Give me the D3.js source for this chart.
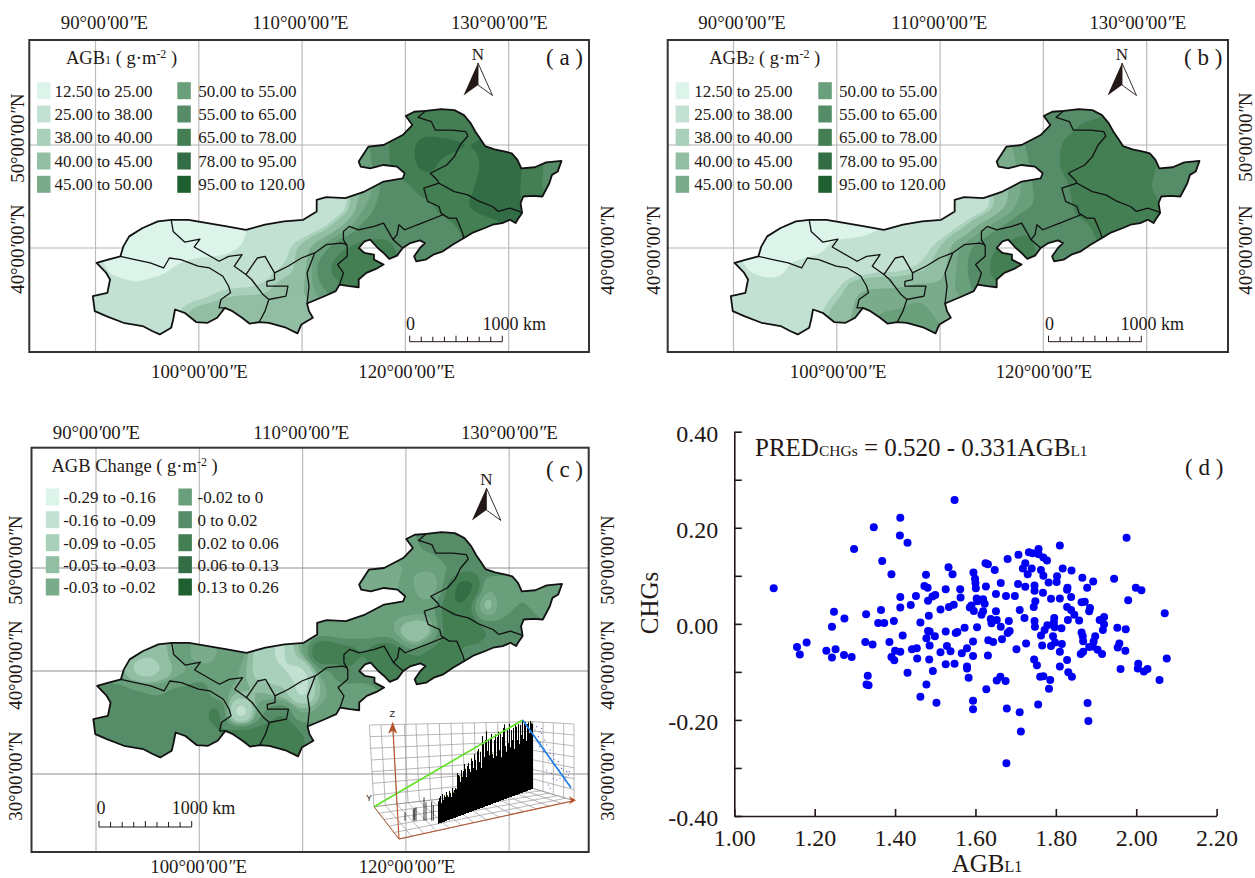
<!DOCTYPE html>
<html><head><meta charset="utf-8">
<script src="https://cdnjs.cloudflare.com/ajax/libs/d3/7.8.5/d3.min.js"></script>
<style>html,body{margin:0;padding:0;background:#fff}svg{display:block}text{font-family:"Liberation Serif",serif;fill:#231815}</style>
</head><body><svg id="c" width="1255" height="878"></svg>
<script>
// ---------- data ----------
const bandColors=["#dcf4e9","#c3e1d3","#a9d0ba","#92bfa3","#7aab8b","#6a9f7b","#568c68","#437f53","#336d45","#1f5f30"];
const agbBreaks=[12.5,25,38,40,45,50,55,65,78,95,120];
const agbLabels=["12.50 to 25.00","25.00 to 38.00","38.00 to 40.00","40.00 to 45.00","45.00 to 50.00","50.00 to 55.00","55.00 to 65.00","65.00 to 78.00","78.00 to 95.00","95.00 to 120.00"];
const changeBreaks=[-0.29,-0.16,-0.09,-0.05,-0.03,-0.02,0,0.02,0.06,0.13,0.26];
const changeLabels=["-0.29 to -0.16","-0.16 to -0.09","-0.09 to -0.05","-0.05 to -0.03","-0.03 to -0.02","-0.02 to 0","0 to 0.02","0.02 to 0.06","0.06 to 0.13","0.13 to 0.26"];
// region outline, [lon, lat]
const outline=[[120.04,52.81],[120.85,53.23],[121.96,53.32],[123.44,53.48],[124.74,53.39],[125.67,52.9],[126.33,52.1],[126.78,51.29],[127.33,50.48],[127.7,49.9],[128.63,49.58],[129.67,49.35],[130.3,49.19],[130.85,48.55],[131.22,47.74],[132.52,47.84],[133.63,48.32],[135.11,48.45],[134.74,47.42],[134.19,47.1],[133.93,46.29],[133.26,45],[132.33,45.06],[131.41,45],[131.15,44.35],[131.3,43.39],[130.85,42.74],[130.67,42.42],[130.11,42.74],[129.37,42.42],[128.44,42.26],[127.7,41.94],[126.59,41.52],[125.67,40.97],[124.56,40.32],[123.63,39.68],[122.7,39.35],[121.96,38.87],[121.04,38.71],[120.85,39.19],[121.41,40],[121.89,40.48],[121.41,40.74],[120.48,40.48],[119.74,40],[119.19,39.26],[118.44,38.94],[117.89,39.52],[117.33,40],[116.59,40.81],[116.04,40.65],[115.48,40],[116.04,39.52],[116.96,39.35],[116.96,38.87],[117.89,38.39],[117.15,37.97],[116.22,37.58],[115.48,36.94],[115.48,36.19],[114.56,36.29],[113.63,36.45],[113.26,35.81],[112.15,35.32],[110.48,34.61],[110.67,33.87],[111.04,33.23],[109.93,32.58],[109.56,31.71],[108.44,32.26],[106.78,32.74],[105.85,32.81],[104.93,32.65],[104.19,33.23],[103.26,33.87],[102.52,34.19],[101.78,33.23],[100.85,32.74],[99.74,32.81],[98.63,33.71],[97.7,34.03],[97.52,33.06],[97.33,32.26],[96.22,31.61],[95.48,31.94],[94.56,32.42],[92.7,32.74],[91.04,33.39],[89.93,33.87],[89.74,35.32],[91.15,35.65],[91.41,36.94],[91.04,37.58],[90.11,38.55],[91.22,38.87],[92.41,39.19],[92.7,40.16],[93.26,41.13],[94.56,41.94],[96.04,42.58],[97.33,42.74],[99,42.74],[100.85,42.42],[102.7,42.1],[104.56,41.77],[106.41,42.26],[108.26,42.58],[110.11,42.74],[111.41,43.55],[111.41,44.68],[112.33,44.94],[114.19,44.84],[116.04,45.48],[117.89,46.45],[119.74,46.77],[119.93,47.26],[119.19,47.9],[117.89,48.06],[116.59,47.74],[115.67,47.9],[115.48,48.39],[116.41,49.84],[117.89,50],[119.74,50.97],[120.67,51.94]];
// province borders, [lon, lat]
const borders=[
[[121.96,53.32],[121.22,52.68],[122.52,52.26],[122.89,51.45],[124.56,51.45],[125.85,51.29],[126.04,50.87],[125.3,50],[124.74,48.87],[124,48.06],[122.41,47.26],[123.07,46.61],[123.26,46.29],[121.78,45.81],[122.15,44.52],[123.26,44.03],[123.44,43.39],[124.19,42.9],[124.93,42.9],[125.48,41.61],[125.67,40.97]],
[[123.26,46.29],[124.74,45.48],[126.04,45.16],[127.15,44.52],[128.44,44.03],[129,43.55],[130.11,43.87],[131.22,43.48]],
[[123.63,43.23],[121.59,42.42],[119.93,41.77],[119.37,42.26],[119.19,41.29],[118.81,40.81],[119.74,40]],
[[118.81,40.81],[118.44,41.45],[117.89,42.42],[116.96,42.1],[115.48,41.77],[114.56,42.1],[114,41.61],[114,40.81],[114.37,40.16],[114.37,39.19],[113.44,38.39],[114,37.58],[113.63,36.45]],
[[114.37,40.32],[113.81,40.48],[112.33,40.32],[111.22,39.52],[110.48,37.58],[110.67,36.29],[110.48,34.61]],
[[111.22,39.52],[109.93,39.03],[108.63,38.23],[107.33,37.58],[107.33,36.94],[106.59,36.77],[106.59,36.29],[108.63,36.29],[108.44,35.32],[106.78,35],[106.41,33.87],[105.85,32.81]],
[[107.33,37.58],[106.41,39.19],[105.67,39.03],[104.56,37.42],[105.11,36.94],[106.22,35.48],[106.78,35]],
[[97.33,42.74],[97.52,41.61],[98.63,40.58],[100.11,40.87],[99.56,40.1],[101.96,38.71],[102.89,39.19],[104.19,39.35],[103.44,38.23],[104.56,37.42]],
[[92.41,39.19],[93.81,38.87],[95.3,38.55],[96.59,38.06],[97.15,39.03],[98.26,38.87],[99.93,38.23],[101.04,38.06],[102.33,37.26],[102.89,36.29],[103.07,35.65],[102.15,35],[101.96,34.19],[102.52,34.19]]
];
const agb1Rows=[
[53,120,[72,74,70,68,66]],[52,120,[72,72,68,70]],
[50,116,[52,62,74,84,84,80,80,82]],
[48,116,[50,64,72,86,72,68,84,86,74,60]],
[46,116,[42,58,62,70,68,74,86,86,72,60]],
[44,110,[28,30,34,50,60,60,62,70,80,84,86,72]],
[42,94,[18,18,18,18,18,22,30,32,33,36,45,58,62,60,60,60,68,72]],
[40,92,[18,18,18,18,18,20,24,33,36,42,52,66,70,68,62,60,60]],
[38,90,[30,20,18,20,27,33,33,34,36,38,40,62,76,80,70]],
[36,90,[32,32,28,33,33,34,38,38,38,42,44,55,62]],
[34,90,[33,33,33,34,38,42,42,45,45,42,42,46]],
[32,94,[33,36,40,44,44,45,44,44,44]]];
const agb2Rows=[
[53,120,[58,58,58,60]],[52,120,[62,62,70,72]],
[50,116,[45,55,60,66,72,70,70,70]],
[48,116,[45,52,62,66,70,72,72,70,60,55]],
[46,116,[42,50,60,64,68,72,72,66,58,55]],
[44,110,[30,30,33,42,53,56,62,70,74,76,72,62]],
[42,94,[18,18,18,18,18,23,30,33,33,38,48,56,64,62,62,62,70,72]],
[40,92,[18,18,18,20,30,32,33,34,36,40,52,60,68,70,62,62,62]],
[38,90,[30,22,18,30,33,34,34,36,36,38,42,52,62,72,66]],
[36,90,[32,32,32,32,34,37,46,46,46,48,46,52,58]],
[34,90,[33,33,33,33,36,42,46,50,50,52,48,46]],
[32,94,[33,33,38,44,46,52,54,56,50]]];
const changeRows=[
[53,120,[-0.005,0.01,0.01,0.01]],[52,120,[-0.01,0,0.01,0.01]],
[50,116,[-0.025,-0.025,-0.02,-0.015,0,0.01,0.01]],
[48,116,[-0.025,-0.03,-0.015,-0.015,0.02,0.08,-0.02,0,0,-0.005]],
[46,114,[-0.015,-0.02,-0.015,-0.015,-0.015,0.03,0.06,-0.03,0,0]],
[44,110,[-0.025,-0.015,-0.02,-0.015,-0.015,-0.03,-0.04,0.03,0.04,0.02,0.01]],
[42,94,[-0.035,-0.04,-0.015,-0.015,-0.005,-0.01,-0.07,-0.1,-0.02,0.04,0.03,0.02,0.04,0.03,0.03,0.03,0.015,0.015]],
[40,92,[-0.02,-0.05,-0.05,-0.025,-0.01,0,-0.02,-0.07,-0.09,-0.11,-0.015,0.02,0.015,0.04,0.03,0.03,0.03]],
[38,90,[0.01,0.01,0.005,0,0.005,0.01,-0.015,-0.025,-0.03,-0.04,-0.11,-0.02,-0.01,-0.01]],
[36,90,[0.01,0.01,0,0.005,0.01,0.015,0.03,-0.13,0,0.02,-0.02,-0.015,-0.01]],
[34,90,[0.01,0.01,0.01,0.01,0.01,0.01,0.02,0.04,0.03,0.05,0.02,0.01]],
[32,94,[0.01,0.01,0.01,0.01,0.01,0.02,0.03,0.03,0.02]]];
const changeSpots=[[100.74,41.87,-0.05],[94.8,40.26,-0.07],[120.74,43.16,-0.07],[122.4,48.3,-0.05],[127.04,46.55,-0.06],[125.56,47.5,0.1],[111.67,41.39,0.06],[119.26,40.4,0.06]];
// scatter (d)
const agbL1=[1.098,1.156,1.163,1.18,1.229,1.243,1.252,1.243,1.248,1.274,1.273,1.292,1.298,1.326,1.328,1.344,1.332,1.329,1.334,1.347,1.368,1.365,1.358,1.373,1.386,1.391,1.397,1.391,1.398,1.4,1.413,1.413,1.412,1.431,1.413,1.413,1.419,1.439,1.431,1.452,1.442,1.454,1.455,1.463,1.463,1.473,1.481,1.477,1.482,1.484,1.493,1.5,1.513,1.478,1.482,1.486,1.486,1.499,1.485,1.494,1.478,1.503,1.513,1.526,1.533,1.543,1.534,1.546,1.526,1.529,1.538,1.526,1.548,1.548,1.562,1.563,1.551,1.555,1.573,1.566,1.579,1.579,1.579,1.583,1.594,1.594,1.604,1.586,1.596,1.59,1.595,1.599,1.6,1.601,1.603,1.605,1.594,1.594,1.619,1.623,1.619,1.615,1.625,1.631,1.626,1.648,1.663,1.651,1.676,1.698,1.651,1.638,1.64,1.653,1.663,1.683,1.685,1.68,1.632,1.644,1.666,1.631,1.627,1.653,1.662,1.675,1.678,1.677,1.68,1.707,1.706,1.71,1.722,1.702,1.726,1.71,1.713,1.718,1.724,1.73,1.733,1.742,1.74,1.757,1.757,1.769,1.778,1.763,1.769,1.782,1.747,1.724,1.747,1.768,1.749,1.745,1.788,1.81,1.81,1.817,1.803,1.802,1.829,1.828,1.839,1.838,1.828,1.838,1.83,1.846,1.858,1.864,1.872,1.866,1.878,1.893,1.885,1.883,1.747,1.748,1.772,1.779,1.796,1.795,1.797,1.814,1.763,1.766,1.793,1.798,1.788,1.815,1.81,1.828,1.746,1.753,1.761,1.769,1.786,1.783,1.756,1.81,1.831,1.84,1.864,1.867,1.868,1.862,1.868,1.883,1.892,1.898,1.894,1.904,1.915,1.879,1.881,1.909,1.92,1.92,1.917,1.945,1.953,1.974,1.954,1.958,1.973,1.961,1.976,1.98,1.999,2.013,2.005,2.004,2.019,2.028,2.058,2.071,2.076];
const chgs=[0.074,-0.048,-0.064,-0.039,-0.056,-0.07,-0.053,-0.006,0.025,0.011,-0.065,-0.069,0.156,-0.038,0.02,-0.043,-0.108,-0.126,-0.128,0.201,0.131,0.029,0.002,0.002,-0.038,0.103,0.006,-0.069,-0.076,-0.056,-0.058,0.221,0.184,0.169,0.056,0.034,-0.024,0.039,-0.102,0.058,-0.053,-0.051,-0.072,0.003,-0.152,0.079,0.075,0.102,0.048,0.017,0.057,0.06,0.03,-0.03,-0.015,-0.016,-0.045,-0.026,-0.074,-0.098,-0.126,-0.164,-0.059,0.072,0.118,0.103,0.035,0.04,-0.016,-0.046,-0.057,-0.084,-0.083,0.258,0.072,0.055,-0.019,-0.017,-0.008,-0.061,-0.051,-0.089,-0.093,-0.112,-0.067,-0.037,-0.007,0.034,0.027,0.038,0.107,0.094,0.085,0.074,0.053,0.047,-0.16,-0.178,0.051,0.042,0.026,0.019,0.126,0.124,0.078,0.112,0.085,0.062,0.058,0.058,0.026,0.01,0.001,0.008,-0.006,0.006,-0.015,-0.019,-0.034,-0.038,-0.032,-0.066,-0.136,-0.118,-0.11,-0.119,-0.176,-0.29,0.135,0.144,0.083,0.029,0.012,-0.053,-0.041,-0.184,-0.224,0.115,0.126,0.103,0.149,0.147,0.115,0.156,0.145,0.138,0.132,0.112,0.1,0.086,0.08,0.077,0.069,0.065,0.047,0.035,0.052,0.053,0.163,0.115,0.099,0.087,0.075,0.071,0.111,0.056,0.035,0.029,0.008,0.019,0.007,0.045,0.046,0.096,0.075,0.088,0.033,0.026,0.006,-0.006,-0.013,-0.003,0.012,0.003,-0.007,-0.009,-0.024,-0.045,-0.026,-0.039,-0.046,-0.042,-0.058,-0.075,-0.074,-0.086,-0.11,-0.109,-0.117,-0.135,-0.168,-0.089,-0.101,-0.11,-0.018,-0.026,-0.036,-0.063,-0.058,-0.048,-0.047,-0.026,-0.037,-0.054,-0.063,-0.165,-0.202,0.008,0.014,-0.001,-0.013,0.094,-0.008,-0.011,-0.049,-0.041,-0.056,-0.094,0.179,0.049,0.075,0.07,-0.083,-0.093,-0.099,-0.094,-0.117,0.022,-0.072];
// inset (c): bar silhouette, wall scatter
const sparseBarPos=[165,190,194,198,222,228,245,250],sparseBarHeight=[25,35,38,40,70,55,57,47];
const denseBarHeights=[68,75,82,60,85,66,80,72,88,76,70,86,80,66,92,78,85,90,85,130,125,120,100,135,115,130,150,135,110,140,150,130,120,160,150,130,170,150,120,175,180,140,170,120,215,190,150,200,225,165,195,150,200,210,150,135,190,205,140,195,210,155,200,130,190,215,225,160,140,205,165,220,150,200,170,205,140,215,205,165,210,150,205,175,215,160,205,210,150,200,205,170,205,200,195];
const wallDotX=[560,570,565,575,585,590,568,580,600,610,595,615,625,640,650,655,630,645,620,610,600,595,605,590,575,555,560,635,648,658,600,612,628,582,572];
const wallDotY=[110,125,140,130,150,165,170,185,180,195,210,225,215,240,245,255,265,270,270,265,295,285,250,240,115,120,150,235,262,245,190,208,240,175,158];
const lonTicks=[90,100,110,120,130];
const ink="#231815";

// ---------- helpers ----------
const svg=d3.select("#c");
svg.append("rect").attr("width",1255).attr("height",878).attr("fill","#fff");
const STEP=0.2,LON0=88,LAT0=55,NX=245,NY=125;
function expand(rows,extra){const s=[];rows.forEach(([lat,lon,vals])=>vals.forEach((v,i)=>s.push([lon+2*i,lat,v])));return s.concat(extra||[]);}
function field(samples,sigma){
  const vals=new Float64Array(NX*NY),k=1/(2*sigma*sigma);
  for(let j=0;j<NY;j++){const lat=LAT0-j*STEP;for(let i=0;i<NX;i++){const lon=LON0+i*STEP;let a=0,b=0;
    for(const s of samples){const dx=lon-s[0],dy=lat-s[1],w=Math.exp(-(dx*dx+dy*dy)*k)+1e-12;a+=w*s[2];b+=w;}
    vals[j*NX+i]=a/b;}}
  return vals;
}
function coordText(g,x,y,deg,hemi,rot){
  const t=g.append("text").attr("text-anchor","middle").attr("font-size",18.8);
  if(rot) t.attr("transform",`translate(${x},${y}) rotate(-90)`); else t.attr("x",x).attr("y",y);
  t.append("tspan").text(deg+"°00");t.append("tspan").attr("font-style","italic").text("′");t.append("tspan").text("00");
  t.append("tspan").attr("font-style","italic").text("″");t.append("tspan").text(hemi);
}
function rich(g,x,y,size,parts){
  const t=g.append("text").attr("x",x).attr("y",y).attr("font-size",size);
  parts.forEach(p=>{const s=t.append("tspan").text(p[0]).attr("font-size",p[1]||size);if(p[2])s.attr("dy",p[2]);});
  return t;
}
let clipId=0;
function mapPanel(o){
  const g=svg.append("g");
  const x=d3.scaleLinear().domain([90,130]).range([o.x90,o.x130]);
  const y=d3.scaleLinear().domain([50,40]).range([o.y50,o.y40]);
  const f=o.frame;
  lonTicks.forEach(v=>g.append("line").attr("x1",x(v)).attr("x2",x(v)).attr("y1",f[1]).attr("y2",f[3]).attr("stroke","#bcbcbc").attr("stroke-width",1.2));
  o.lats.forEach(v=>g.append("line").attr("x1",f[0]).attr("x2",f[2]).attr("y1",y(v)).attr("y2",y(v)).attr("stroke",o.latStroke||"#b4b4b4").attr("stroke-width",1.2));
  const line=d3.line().x(d=>x(d[0])).y(d=>y(d[1])).curve(d3.curveLinear);
  const id="clip"+(clipId++);
  g.append("clipPath").attr("id",id).append("path").attr("d",line(outline)+"Z");
  const m=g.append("g").attr("clip-path",`url(#${id})`);
  m.append("path").attr("d",line(outline)+"Z").attr("fill",bandColors[0]);
  const vals=field(o.samples,o.sigma);
  const th=o.breaks.slice(1,10);
  const cs=d3.contours().size([NX,NY]).thresholds(th)(vals);
  const proj=d3.geoPath(d3.geoTransform({point(i,j){this.stream.point(x(LON0+(i-0.5)*STEP),y(LAT0-(j-0.5)*STEP));}}));
  cs.forEach((c,i)=>m.append("path").attr("d",proj(c)).attr("fill",bandColors[i+1]));
  borders.forEach(b=>g.append("path").attr("d",line(b)).attr("fill","none").attr("stroke","#111").attr("stroke-width",1.3).attr("stroke-linejoin","round"));
  g.append("path").attr("d",line(outline)+"Z").attr("fill","none").attr("stroke","#111").attr("stroke-width",1.8).attr("stroke-linejoin","round");
  g.append("rect").attr("x",f[0]).attr("y",f[1]).attr("width",f[2]-f[0]).attr("height",f[3]-f[1]).attr("fill","none").attr("stroke","#333").attr("stroke-width",2);
  // legend
  o.labels.forEach((l,i)=>{const col=i<5?0:1,row=i%5,cy=o.rowY[row];
    g.append("rect").attr("x",o.swatchX[col]).attr("y",cy-8.5).attr("width",13.5).attr("height",17).attr("fill",bandColors[i]);
    g.append("text").attr("x",o.textX[col]).attr("y",cy+6).attr("font-size",17).text(l);});
  rich(g,o.titleX,o.titleY,18.5,o.title);
  g.append("text").attr("x",o.tagX).attr("y",o.tagY).attr("font-size",23).text(o.tag);
  // north arrow
  const n=o.north;
  g.append("text").attr("x",n[0]).attr("y",n[1]-3).attr("text-anchor","middle").attr("font-size",17).text("N");
  const pa=`M${n[0]},${n[1]}L${n[0]-14.5},${n[1]+32.5}L${n[0]},${n[1]+22}Z`;
  const pb=`M${n[0]},${n[1]}L${n[0]+14.5},${n[1]+32.5}L${n[0]},${n[1]+22}Z`;
  g.append("path").attr("d",pa).attr("fill",ink);
  g.append("path").attr("d",pb).attr("fill","#fff").attr("stroke",ink).attr("stroke-width",0.9);
  // scale bar
  const km=d3.scaleLinear().domain([0,1000]).range(o.bar);
  g.append("line").attr("x1",km(0)).attr("x2",km(1000)).attr("y1",o.barY).attr("y2",o.barY).attr("stroke",ink).attr("stroke-width",1);
  d3.range(0,1001,125).forEach(v=>g.append("line").attr("x1",km(v)).attr("x2",km(v)).attr("y1",o.barY).attr("y2",o.barY-(v%500==0?6:5)).attr("stroke",ink).attr("stroke-width",1));
  g.append("text").attr("x",o.barText[0]).attr("y",o.barText[2]).attr("font-size",18).text("0");
  g.append("text").attr("x",o.barText[1]).attr("y",o.barText[2]).attr("font-size",18).text("1000 km");
  o.top.forEach(([cx,d])=>coordText(g,cx,o.topY,d,"E"));
  o.bottom.forEach(([cx,d])=>coordText(g,cx,o.bottomY,d,"E"));
  o.side.forEach(([bx,cy,d])=>coordText(g,bx,cy,d,"N",true));
  return g;
}

// ---------- panels ----------
mapPanel({x90:95.5,x130:508.7,y50:145,y40:248,frame:[29.3,40,589,352],lats:[50,40],samples:expand(agb1Rows),sigma:1.05,breaks:agbBreaks,labels:agbLabels,
 rowY:[90.7,114,137.3,161,184.3],swatchX:[37,177.3],textX:[54.4,198.2],title:[["AGB"],["1",12],[" ( g·m"],["-2",12,"-6"],[" )",18.5,"6"]],titleX:66,titleY:64,tag:"( a )",tagX:546,tagY:65,
 north:[478,63],bar:[409.7,502.3],barY:341.7,barText:[406,482.5,330],top:[[104.4,90],[300.5,110],[499.3,130]],topY:29,bottom:[[199.4,100],[406.6,120]],bottomY:378,side:[[24,138,50],[24,249,40],[613.5,250,40]]});
mapPanel({x90:733.5,x130:1146.7,y50:145,y40:248,frame:[667.7,40,1228,352],lats:[50,40],samples:expand(agb2Rows),sigma:1.05,breaks:agbBreaks,labels:agbLabels,
 rowY:[90.7,114,137.3,161,184.3],swatchX:[675.6,818.3],textX:[694.3,839],title:[["AGB"],["2",12],[" ( g·m"],["-2",12,"-6"],[" )",18.5,"6"]],titleX:709.2,titleY:64,tag:"( b )",tagX:1184,tagY:65,
 north:[1122,63],bar:[1048.5,1141.3],barY:341.7,barText:[1045,1120.4,330],top:[[742,90],[939.3,110],[1137.8,130]],topY:29,bottom:[[838.2,100],[1044,120]],bottomY:378,side:[[660,250,40],[1251.5,137,50],[1251.5,250,40]]});
const gc=mapPanel({x90:96,x130:509.2,y50:568,y40:671,frame:[31.5,447.7,588.7,852],lats:[50,40,30],latStroke:"#8f8f8f",samples:expand(changeRows,changeSpots),sigma:0.85,breaks:changeBreaks,labels:changeLabels,
 rowY:[497,519.7,542.7,564.7,587],swatchX:[45.8,178.4],textX:[63.2,197.6],title:[["AGB Change ( g·m"],["-2",12,"-6"],[" )",18.5,"6"]],titleX:51.5,titleY:471.7,tag:"( c )",tagX:546,tagY:477,
 north:[486.4,488],bar:[99,191.7],barY:827,barText:[96.4,171.8,814],top:[[96.4,90],[301.3,110],[509.3,130]],topY:439,bottom:[[198.6,100],[407,120]],bottomY:873,side:[[22,560,50],[22,665,40],[22,776,30],[613.5,560,50],[613.5,665,40],[613.5,776,30]]});

// ---------- inset in (c) ----------
(function(){
  const g=gc.append("g");
  const ix=d3.scaleLinear().domain([0,720]).range([350,590]);
  const iy=d3.scaleLinear().domain([0,480]).range([690,850]);
  const P=p=>[ix(p[0]),iy(p[1])];
  const lerp=(a,b,t)=>[a[0]+(b[0]-a[0])*t,a[1]+(b[1]-a[1])*t];
  function wall(tl,tr,br,bl,nc,nr){
    const L=[];
    d3.range(nc+1).forEach(i=>L.push([lerp(tl,tr,i/nc),lerp(bl,br,i/nc)]));
    d3.range(nr+1).forEach(i=>L.push([lerp(tl,bl,i/nr),lerp(tr,br,i/nr)]));
    L.forEach(([a,b])=>{const A=P(a),B=P(b);g.append("line").attr("x1",A[0]).attr("y1",A[1]).attr("x2",B[0]).attr("y2",B[1]).attr("stroke","#9a9a9a").attr("stroke-width",0.7);});
  }
  wall([58,105],[548,95],[548,295],[72,350],14,7);
  wall([548,95],[672,102],[672,332],[548,295],4,7);
  wall([72,350],[548,295],[672,332],[147,447],14,5);
  const seg=(a,b,c,w)=>{const A=P(a),B=P(b);g.append("line").attr("x1",A[0]).attr("y1",A[1]).attr("x2",B[0]).attr("y2",B[1]).attr("stroke",c).attr("stroke-width",w);};
  const base=u=>400-(u-270)*0.371;
  const drawBar=(u,h,i)=>{const A=P([u,base(u)]),B=P([u,base(u)-h]);
    g.append("line").attr("x1",A[0]).attr("y1",A[1]).attr("x2",B[0]).attr("y2",B[1]).attr("stroke","#000").attr("stroke-width",1).attr("shape-rendering","crispEdges");
    if(i%3==0)g.append("circle").attr("cx",B[0]).attr("cy",B[1]).attr("r",0.5).attr("fill","#a8cc2e");};
  sparseBarPos.forEach((u,i)=>{const A=P([u,392]),B=P([u,392-sparseBarHeight[i]]);g.append("line").attr("x1",A[0]).attr("y1",A[1]).attr("x2",B[0]).attr("y2",B[1]).attr("stroke","#222").attr("stroke-width",0.9);});
  denseBarHeights.forEach((h,i)=>drawBar(266+3*i,h,i));
  wallDotX.forEach((u,i)=>{const p=P([u,wallDotY[i]]);g.append("circle").attr("cx",p[0]).attr("cy",p[1]).attr("r",0.6).attr("fill","#4a4ab0");});
  seg([72,350],[518,90],"#5fe324",1.7);
  seg([518,90],[663,293],"#1f7fe6",1.7);
  seg([147,447],[72,350],"#b5532a",0.9);
  seg([147,447],[128,100],"#b5532a",1.1);
  seg([147,447],[668,333],"#b5532a",1.1);
  const tipZ=P([128,95]),tipX=P([678,331]);
  g.append("path").attr("d",`M${tipZ[0]},${tipZ[1]}l-4.5,12l4.5,-3l4.5,3Z`).attr("fill","#b5532a");
  g.append("path").attr("d",`M${tipX[0]},${tipX[1]}l-7,-4l2,4l-2,4Z`).attr("fill","#b5532a");
  const tz=P([127,80]),ty=P([57,333]);
  g.append("text").attr("x",tz[0]).attr("y",tz[1]).attr("text-anchor","middle").attr("font-size",9).style("font-family","Liberation Sans").text("Z");
  g.append("text").attr("x",ty[0]).attr("y",ty[1]).attr("text-anchor","middle").attr("font-size",9).style("font-family","Liberation Sans").text("Y");
})();

// ---------- scatter (d) ----------
(function(){
  const g=svg.append("g");
  const x=d3.scaleLinear().domain([1,2.2]).range([734.3,1216.6]);
  const y=d3.scaleLinear().domain([-0.4,0.4]).range([816,431.7]);
  const fmt=v=>d3.format(".2f")(Math.abs(v)<1e-9?0:v).replace("−","-");
  const xa=g.append("g").attr("transform","translate(0,816)").call(d3.axisBottom(x).tickValues(d3.range(1,2.21,0.2)).tickFormat(fmt).tickSize(-7).tickSizeOuter(0).tickPadding(13));
  const ya=g.append("g").attr("transform","translate(734.3,0)").call(d3.axisLeft(y).tickValues(d3.range(-0.4,0.41,0.1)).tickFormat(v=>Math.round(v*100)%20==0?fmt(v):"").tickSize(-7.5).tickSizeOuter(0).tickPadding(16));
  [xa,ya].forEach(a=>{a.selectAll("path,line").attr("stroke",ink).attr("stroke-width",1.6);a.selectAll("text").attr("font-size",24).attr("fill",ink).style("font-family","Liberation Serif");});
  ya.selectAll("text").attr("dy","9.5");
  xa.selectAll(".tick text").attr("dy","17");
  g.selectAll("circle.p").data(agbL1).join("circle").attr("class","p").attr("cx",d=>x(d)).attr("cy",(d,i)=>y(chgs[i])).attr("r",4).attr("fill","#0000f5");
  rich(g,755,456,25,[["PRED"],["CHGs",15.5],[" = 0.520 - 0.331AGB"],["L1",15.5]]);
  g.append("text").attr("x",1185).attr("y",475).attr("font-size",23).text("( d )");
  const xl=rich(g,987,872,25,[["AGB"],["L1",16]]);xl.attr("text-anchor","middle");
  g.append("text").attr("transform","translate(658,603) rotate(-90)").attr("text-anchor","middle").attr("font-size",25).text("CHGs");
})();
</script></body></html>
